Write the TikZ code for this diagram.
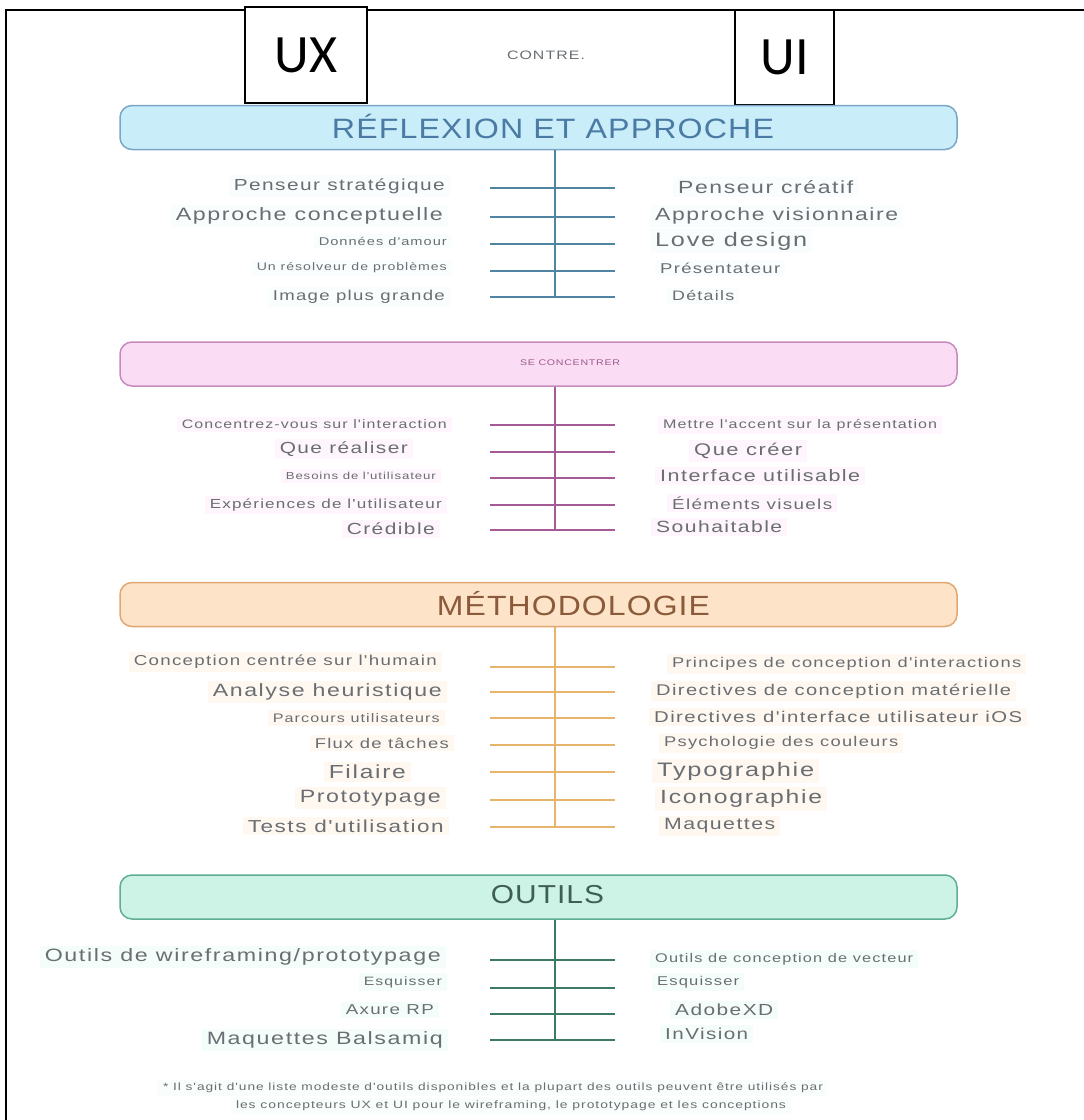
\documentclass[tikz,border=0pt]{standalone}
\usepackage{fontspec}
\setmainfont{Liberation Sans}
\newfontfamily\labfont[FakeStretch=1.3,LetterSpace=9]{Liberation Sans}
\newfontfamily\titlefont[FakeStretch=1.15,LetterSpace=4]{Liberation Sans}
\newfontfamily\headfont{Carlito}

\definecolor{blueline}{HTML}{4F84A3}
\definecolor{bluefill}{HTML}{C9EEF9}
\definecolor{blueedge}{HTML}{7AA7C7}
\definecolor{bluetitle}{HTML}{4B7BA5}
\definecolor{pinkline}{HTML}{A55A96}
\definecolor{pinkfill}{HTML}{FADCF5}
\definecolor{pinkedge}{HTML}{C68BBD}
\definecolor{pinktitle}{HTML}{9A5A8A}
\definecolor{orangeline}{HTML}{E6B46A}
\definecolor{orangefill}{HTML}{FDE3C8}
\definecolor{orangeedge}{HTML}{E0A870}
\definecolor{orangetitle}{HTML}{8A5A3A}
\definecolor{greenline}{HTML}{3D7A64}
\definecolor{greenfill}{HTML}{CDF3E6}
\definecolor{greenedge}{HTML}{5FAE92}
\definecolor{greentitle}{HTML}{3F5F55}
\definecolor{labgray}{HTML}{6A6E72}

% text fitted to a given width (in pt)
\newcommand\fw[2]{\resizebox{#1pt}{!}{\labfont #2}}
\newcommand\tw[2]{\resizebox{#1pt}{!}{\titlefont #2}}
% one branch line across the trunk
\newcommand\branch[2]{%
  \coordinate (#1l) at (490,#2);
  \coordinate (#1r) at (615,#2);
  \draw[branchline] (#1l) -- (#1r);}
% label on the UX side, right edge at x
\newcommand\ltext[5]{\node[lab,anchor=east] (#1) at (#2+5,#3) {\fw{#4}{#5}};}
% label on the UI side, left edge at x
\newcommand\rtext[5]{\node[lab,anchor=west] (#1) at (#2-5,#3) {\fw{#4}{#5}};}

\tikzset{
  section/.style={draw=#1edge, fill=#1fill, line width=1.5pt, rounded corners=12pt,
    minimum width=837pt, minimum height=44pt, inner sep=0pt},
  trunk/.style={line width=2pt},
  branchline/.style={line width=2pt},
  lab/.style={inner xsep=5pt, inner ysep=3pt, text=labgray},
  tagbox/.style={draw=black, fill=white, line width=1.8pt, inner sep=0pt},
}

\begin{document}
\begin{tikzpicture}[x=1pt,y=-1pt]
\useasboundingbox[fill=white] (0,0) rectangle (1084,1120);
% outer frame
\draw[line width=2.5pt] (6,1130) -- (6,10) -- (1095,10);

% header tags
\node[tagbox, minimum width=122pt, minimum height=96pt] (ux) at (306,55)
  {\headfont\fontsize{54}{54}\selectfont UX};
\node[tagbox, minimum width=99pt, minimum height=95pt] (ui) at (784.5,57.5)
  {\headfont\fontsize{54}{54}\selectfont UI};
\node[inner sep=0pt, text=labgray] (contre) at (546,55) {\fw{78}{CONTRE.}};

% ---------- Réflexion et approche ----------
\begin{scope}[branchline/.append style={draw=blueline}, lab/.append style={fill=bluefill!12}]
\node[section=blue] (s1) at (538.5,127.5) {};
\node[text=bluetitle, inner sep=0pt] (t1) at (553,127) {\tw{442}{RÉFLEXION ET APPROCHE}};
\branch{a1}{188}\branch{a2}{217}\branch{a3}{244}\branch{a4}{271}\branch{a5}{297}
\coordinate (e1) at (555,297);
\draw[trunk, draw=blueline] (s1.south -| e1) -- (e1);
\ltext{a1x}{445}{186}{211}{Penseur stratégique}
\ltext{a2x}{443}{216}{267}{Approche conceptuelle}
\ltext{a3x}{447}{241}{128}{Données d'amour}
\ltext{a4x}{447}{268}{190}{Un résolveur de problèmes}
\ltext{a5x}{445}{297}{172}{Image plus grande}
\rtext{a1y}{678}{187}{175}{Penseur créatif}
\rtext{a2y}{655}{216}{243}{Approche visionnaire}
\rtext{a3y}{655}{241}{152}{Love design}
\rtext{a4y}{660}{268}{120}{Présentateur}
\rtext{a5y}{672}{296}{62}{Détails}
\end{scope}

% ---------- Se concentrer ----------
\begin{scope}[branchline/.append style={draw=pinkline}, lab/.append style={fill=pinkfill!25}]
\node[section=pink] (s2) at (538.5,364) {};
\node[text=pinktitle, inner sep=0pt] (t2) at (570,363) {\fw{100}{SE CONCENTRER}};
\branch{b1}{425}\branch{b2}{452}\branch{b3}{478}\branch{b4}{505}\branch{b5}{530}
\coordinate (e2) at (555,530);
\draw[trunk, draw=pinkline] (s2.south -| e2) -- (e2);
\ltext{b1x}{447}{424}{265}{Concentrez-vous sur l'interaction}
\ltext{b2x}{408}{449}{128}{Que réaliser}
\ltext{b3x}{436}{476}{150}{Besoins de l'utilisateur}
\ltext{b4x}{442}{505}{232}{Expériences de l'utilisateur}
\ltext{b5x}{435}{529}{88}{Crédible}
\rtext{b1y}{663}{425}{274}{Mettre l'accent sur la présentation}
\rtext{b2y}{694}{451}{108}{Que créer}
\rtext{b3y}{660}{476}{200}{Interface utilisable}
\rtext{b4y}{672}{503}{160}{Éléments visuels}
\rtext{b5y}{656}{527}{126}{Souhaitable}
\end{scope}

% ---------- Méthodologie ----------
\begin{scope}[branchline/.append style={draw=orangeline}, lab/.append style={fill=orangefill!25}]
\node[section=orange] (s3) at (538.5,604.5) {};
\node[text=orangetitle, inner sep=0pt] (t3) at (573.5,604) {\tw{273}{MÉTHODOLOGIE}};
\branch{c1}{667}\branch{c2}{692}\branch{c3}{718}\branch{c4}{745}\branch{c5}{772}\branch{c6}{800}\branch{c7}{827}
\coordinate (e3) at (555,827);
\draw[trunk, draw=orangeline] (s3.south -| e3) -- (e3);
\ltext{c1x}{437}{662}{303}{Conception centrée sur l'humain}
\ltext{c2x}{442}{692}{229}{Analyse heuristique}
\ltext{c3x}{440}{718}{167}{Parcours utilisateurs}
\ltext{c4x}{449}{743}{134}{Flux de tâches}
\ltext{c5x}{406}{772}{77}{Filaire}
\ltext{c6x}{441}{798}{141}{Prototypage}
\ltext{c7x}{444}{826}{196}{Tests d'utilisation}
\rtext{c1y}{672}{664}{349}{Principes de conception d'interactions}
\rtext{c2y}{656}{691}{355}{Directives de conception matérielle}
\rtext{c3y}{654}{717}{368}{Directives d'interface utilisateur iOS}
\rtext{c4y}{664}{743}{234}{Psychologie des couleurs}
\rtext{c5y}{657}{771}{157}{Typographie}
\rtext{c6y}{660}{799}{162}{Iconographie}
\rtext{c7y}{664}{826}{111}{Maquettes}
\end{scope}

% ---------- Outils ----------
\begin{scope}[branchline/.append style={draw=greenline}, lab/.append style={fill=greenfill!20}]
\node[section=green] (s4) at (538.5,897) {};
\node[text=greentitle, inner sep=0pt] (t4) at (547.5,895) {\tw{113}{OUTILS}};
\branch{d1}{960}\branch{d2}{988}\branch{d3}{1014}\branch{d4}{1040}
\coordinate (e4) at (555,1040);
\draw[trunk, draw=greenline] (s4.south -| e4) -- (e4);
\ltext{d1x}{441}{957}{396}{Outils de wireframing/prototypage}
\ltext{d2x}{442}{982}{78}{Esquisser}
\ltext{d3x}{434}{1010}{88}{Axure RP}
\ltext{d4x}{443}{1040}{236}{Maquettes Balsamiq}
\rtext{d1y}{655}{959}{258}{Outils de conception de vecteur}
\rtext{d2y}{657}{982}{82}{Esquisser}
\rtext{d3y}{675}{1010}{98}{AdobeXD}
\rtext{d4y}{665}{1034}{83}{InVision}
\end{scope}

% footnote
\node[lab, fill=greenfill!12] (n1) at (493,1088) {\fw{660}{* Il s'agit d'une liste modeste d'outils disponibles et la plupart des outils peuvent être utilisés par}};
\node[lab, fill=greenfill!12] (n2) at (511,1106) {\fw{550}{les concepteurs UX et UI pour le wireframing, le prototypage et les conceptions}};
\end{tikzpicture}
\end{document}
